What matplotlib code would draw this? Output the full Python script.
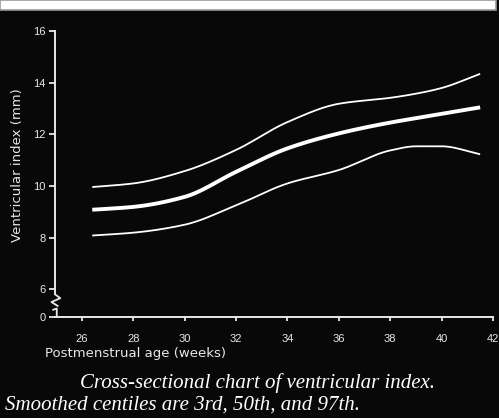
import matplotlib
matplotlib.use("Agg")
import matplotlib.pyplot as plt
import matplotlib.transforms as mtransforms
from matplotlib.patches import Rectangle
import numpy as np

# Smoothed centiles (postmenstrual age in weeks, ventricular index in mm)
age = [26.4, 28, 30, 32, 34, 36, 38, 39, 40, 41.5]
p97 = [9.96, 10.1, 10.58, 11.4, 12.48, 13.19, 13.42, 13.58, 13.8, 14.35]
p50 = [9.08, 9.19, 9.58, 10.55, 11.46, 12.04, 12.46, 12.63, 12.8, 13.05]
p3 = [8.08, 8.19, 8.5, 9.25, 10.1, 10.62, 11.38, 11.54, 11.54, 11.23]

x_ticks = [26, 28, 30, 32, 34, 36, 38, 40, 42]
y_ticks = [6, 8, 10, 12, 14, 16]

bg = "#080808"
fg = "#e8e8e8"
y_zero = 4.92  # where the broken axis shows "0"

fig = plt.figure(figsize=(4.99, 4.18), dpi=100, facecolor=bg)
ax = fig.add_axes([55 / 499, 1 - 317 / 418, 438 / 499, 287 / 418])
ax.set_facecolor(bg)

# white strip at the top of the slide
fig.patches.append(Rectangle((0, 1 - 10 / 418), 496 / 499, 10 / 418, transform=fig.transFigure,
                             facecolor="white", edgecolor="#9a9a9a", lw=1.2))

# monotone cubic interpolation through the read points, for a smooth curve
def smooth(xs, ys, n=200):
    xs = np.asarray(xs, float)
    ys = np.asarray(ys, float)
    xx = np.linspace(xs[0], xs[-1], n)
    h = np.diff(xs)
    d = np.diff(ys) / h
    m = np.zeros_like(ys)
    m[0], m[-1] = d[0], d[-1]
    for k in range(1, len(xs) - 1):
        if d[k - 1] * d[k] > 0:
            w1 = 2 * h[k] + h[k - 1]
            w2 = h[k] + 2 * h[k - 1]
            m[k] = (w1 + w2) / (w1 / d[k - 1] + w2 / d[k])
    idx = np.clip(np.searchsorted(xs, xx) - 1, 0, len(xs) - 2)
    t = (xx - xs[idx]) / h[idx]
    h00 = 2 * t**3 - 3 * t**2 + 1
    h10 = t**3 - 2 * t**2 + t
    h01 = -2 * t**3 + 3 * t**2
    h11 = t**3 - t**2
    yy = h00 * ys[idx] + h10 * h[idx] * m[idx] + h01 * ys[idx + 1] + h11 * h[idx] * m[idx + 1]
    return xx, yy

for ys, lw in [(p97, 1.3), (p50, 2.8), (p3, 1.3)]:
    xx, yy = smooth(age, ys)
    ax.plot(xx, yy, color="white", lw=lw, solid_capstyle="butt")

ax.set_xlim(24.95, 42.0)
ax.set_ylim(y_zero, 16.05)

for s in ["top", "right"]:
    ax.spines[s].set_visible(False)
ax.spines["bottom"].set_color(fg)
ax.spines["bottom"].set_linewidth(1.4)
ax.spines["left"].set_color(fg)
ax.spines["left"].set_linewidth(1.4)
ax.spines["left"].set_bounds(5.8, 16)

# axis break on the y axis
tr = mtransforms.blended_transform_factory(ax.transAxes, ax.transData)
ax.plot([0, 0.012, -0.008, 0.006], [5.8, 5.65, 5.5, 5.35], color=fg, lw=1.3, transform=tr, clip_on=False)
ax.plot([-0.004, 0.004, 0.004], [5.2, 5.25, y_zero], color=fg, lw=1.3, transform=tr, clip_on=False)

ax.set_xticks(x_ticks)
ax.set_xticklabels([str(v) for v in x_ticks])
ax.set_yticks([y_zero] + y_ticks)
ax.set_yticklabels(["0"] + [str(v) for v in y_ticks])
ax.tick_params(axis="x", colors=fg, direction="out", length=3, width=1.3, labelsize=8, pad=9)
ax.tick_params(axis="y", colors=fg, direction="out", length=4, width=1.3, labelsize=8, pad=3)
for lab in ax.get_xticklabels() + ax.get_yticklabels():
    lab.set_family("Liberation Sans")

ax.set_xlabel("Postmenstrual age (weeks)", color=fg, fontsize=9.5, family="DejaVu Sans")
ax.xaxis.set_label_coords(-0.022, -0.105)
ax.xaxis.label.set_horizontalalignment("left")
ax.set_ylabel("Ventricular index (mm)", color=fg, fontsize=9.5, family="DejaVu Sans")
ax.yaxis.set_label_coords(-0.07, 0.53)

fig.text(258 / 499, 1 - 383 / 418, "Cross-sectional chart of ventricular index.", color="white",
         fontsize=15, style="italic", family="Liberation Serif", ha="center", va="center")
fig.text(5 / 499, 1 - 405 / 418, "Smoothed centiles are 3rd, 50th, and 97th.", color="white",
         fontsize=15, style="italic", family="Liberation Serif", ha="left", va="center")

fig.savefig("out.png", dpi=100, facecolor=bg)
